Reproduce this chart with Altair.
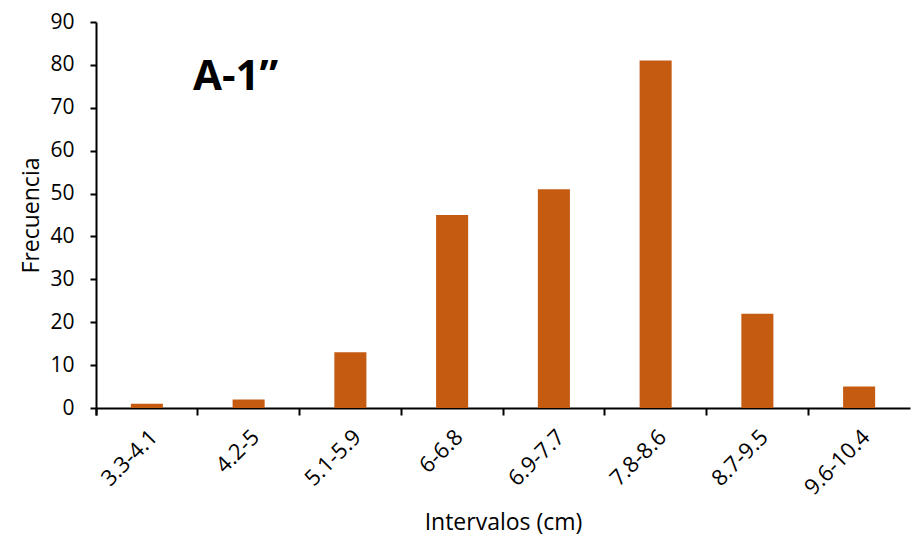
import altair as alt
import pandas as pd

categories = ["3.3-4.1", "4.2-5", "5.1-5.9", "6-6.8", "6.9-7.7", "7.8-8.6", "8.7-9.5", "9.6-10.4"]
frecuencia = [1, 2, 13, 45, 51, 81, 22, 5]
label_text = ["A-1\u201d"]

df = pd.DataFrame({"Intervalo": categories, "Frecuencia": frecuencia})
FONT = "Open Sans"

bars = alt.Chart(df).mark_bar(
    color="#C55A11", width=alt.RelativeBandSize(0.315)
).encode(
    x=alt.X("Intervalo:N", sort=categories, title="Intervalos (cm)",
            scale=alt.Scale(paddingInner=0, paddingOuter=0),
            axis=alt.Axis(labelAngle=-45, bandPosition=0, tickExtra=True,
                          tickSize=7, tickWidth=2, domainWidth=2,
                          domainColor="black", tickColor="black",
                          labelFont=FONT, labelFontSize=22, labelColor="black",
                          labelPadding=11,
                          titleFont=FONT, titleFontSize=23, titleFontWeight="normal",
                          titleColor="black", titlePadding=13)),
    y=alt.Y("Frecuencia:Q", title="Frecuencia",
            scale=alt.Scale(domain=[0, 90], nice=False),
            axis=alt.Axis(values=list(range(0, 91, 10)), grid=False,
                          tickSize=6, tickWidth=2, domainWidth=2,
                          domainColor="black", tickColor="black",
                          labelFont=FONT, labelFontSize=21, labelColor="black",
                          labelPadding=16,
                          titleFont=FONT, titleFontSize=23, titleFontWeight="normal",
                          titleColor="black", titlePadding=6)),
)

text = alt.Chart(pd.DataFrame({"t": label_text})).mark_text(
    font=FONT, fontSize=42, fontWeight="bold", color="black", align="left", baseline="alphabetic"
).encode(
    x=alt.value(97), y=alt.value(68), text="t:N"
)

chart = alt.layer(bars, text).properties(
    width=814, height=386,
    autosize=alt.AutoSizeParams(type="none"),
    padding={"left": 88, "top": 14, "right": 3, "bottom": 136},
).configure_view(stroke=None)

chart.save("out.html", embed_options={"renderer": "svg", "actions": False})
